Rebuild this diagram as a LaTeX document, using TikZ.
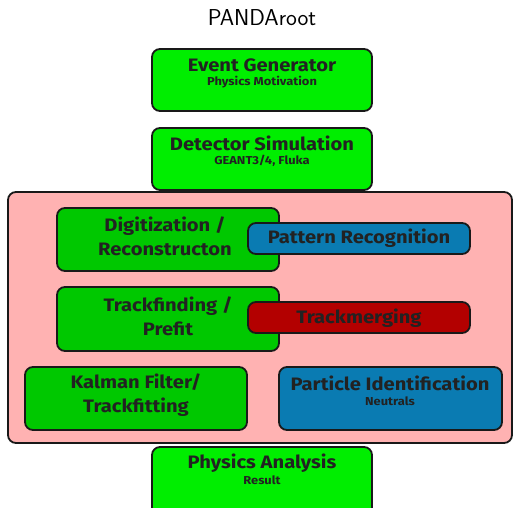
\documentclass[tikz,border=0pt]{standalone}
\usepackage{fontspec}
\newfontfamily\boxfont{Fira Sans}[FakeStretch=1.12]
\definecolor{brightgreen}{HTML}{00EE00}
\definecolor{innergreen}{HTML}{00C800}
\definecolor{pinkbg}{HTML}{FFB2B2}
\definecolor{boxblue}{HTML}{0A7BB2}
\definecolor{boxred}{HTML}{B30000}
\definecolor{txt}{HTML}{222222}
\begin{document}
\begin{tikzpicture}[x=1pt,y=-1pt,
  box/.style={draw=black!90,line width=1.8pt,rounded corners=8pt},
  bigtxt/.style={font=\boxfont\bfseries\fontsize{18}{24}\selectfont,text=txt,align=center,inner sep=0pt},
  smalltxt/.style={font=\boxfont\bfseries\fontsize{11.5}{13}\selectfont,text=txt,align=center,inner sep=0pt}]
\useasboundingbox (0,0) rectangle (513,507);
\node[font=\sffamily\fontsize{23}{26}\selectfont,inner sep=0pt] (title) at (262,18) {PANDAroot};
% top boxes
\draw[box,fill=brightgreen] (152,49) rectangle (372,111);
\node[bigtxt] (evgen) at (262,65) {Event Generator};
\node[smalltxt] (evgensub) at (262,82) {Physics Motivation};
\draw[box,fill=brightgreen] (152,128) rectangle (372,190);
\node[bigtxt] (detsim) at (262,143) {Detector Simulation};
\node[smalltxt] (detsimsub) at (262,161) {GEANT3/4, Fluka};
% pink container
\draw[box,fill=pinkbg] (8,192) rectangle (512,443);
% inner boxes
\draw[box,fill=innergreen] (57,208) rectangle (279,271);
\node[bigtxt] (digi) at (165,236) {Digitization /\\Reconstructon};
\draw[box,fill=boxblue] (248,223) rectangle (470,254);
\node[bigtxt] (patrec) at (359,238) {Pattern Recognition};
\draw[box,fill=innergreen] (57,287) rectangle (279,351);
\node[bigtxt] (trackfind) at (168,316) {Trackfinding /\\Prefit};
\draw[box,fill=boxred] (248,302) rectangle (470,333);
\node[bigtxt] (trackmerge) at (359,318) {Trackmerging};
\draw[box,fill=innergreen] (25,367) rectangle (247,430);
\node[bigtxt] (kalman) at (136,395) {Kalman Filter/\\Trackfitting};
\draw[box,fill=boxblue] (279,367) rectangle (502,430);
\node[bigtxt] (pid) at (390,383) {Particle Identification};
\node[smalltxt] (pidsub) at (390,401) {Neutrals};
% bottom box
\draw[box,fill=brightgreen] (152,447) rectangle (372,520);
\node[bigtxt] (phys) at (262,463) {Physics Analysis};
\node[smalltxt] (physsub) at (262,480) {Result};
\end{tikzpicture}
\end{document}
